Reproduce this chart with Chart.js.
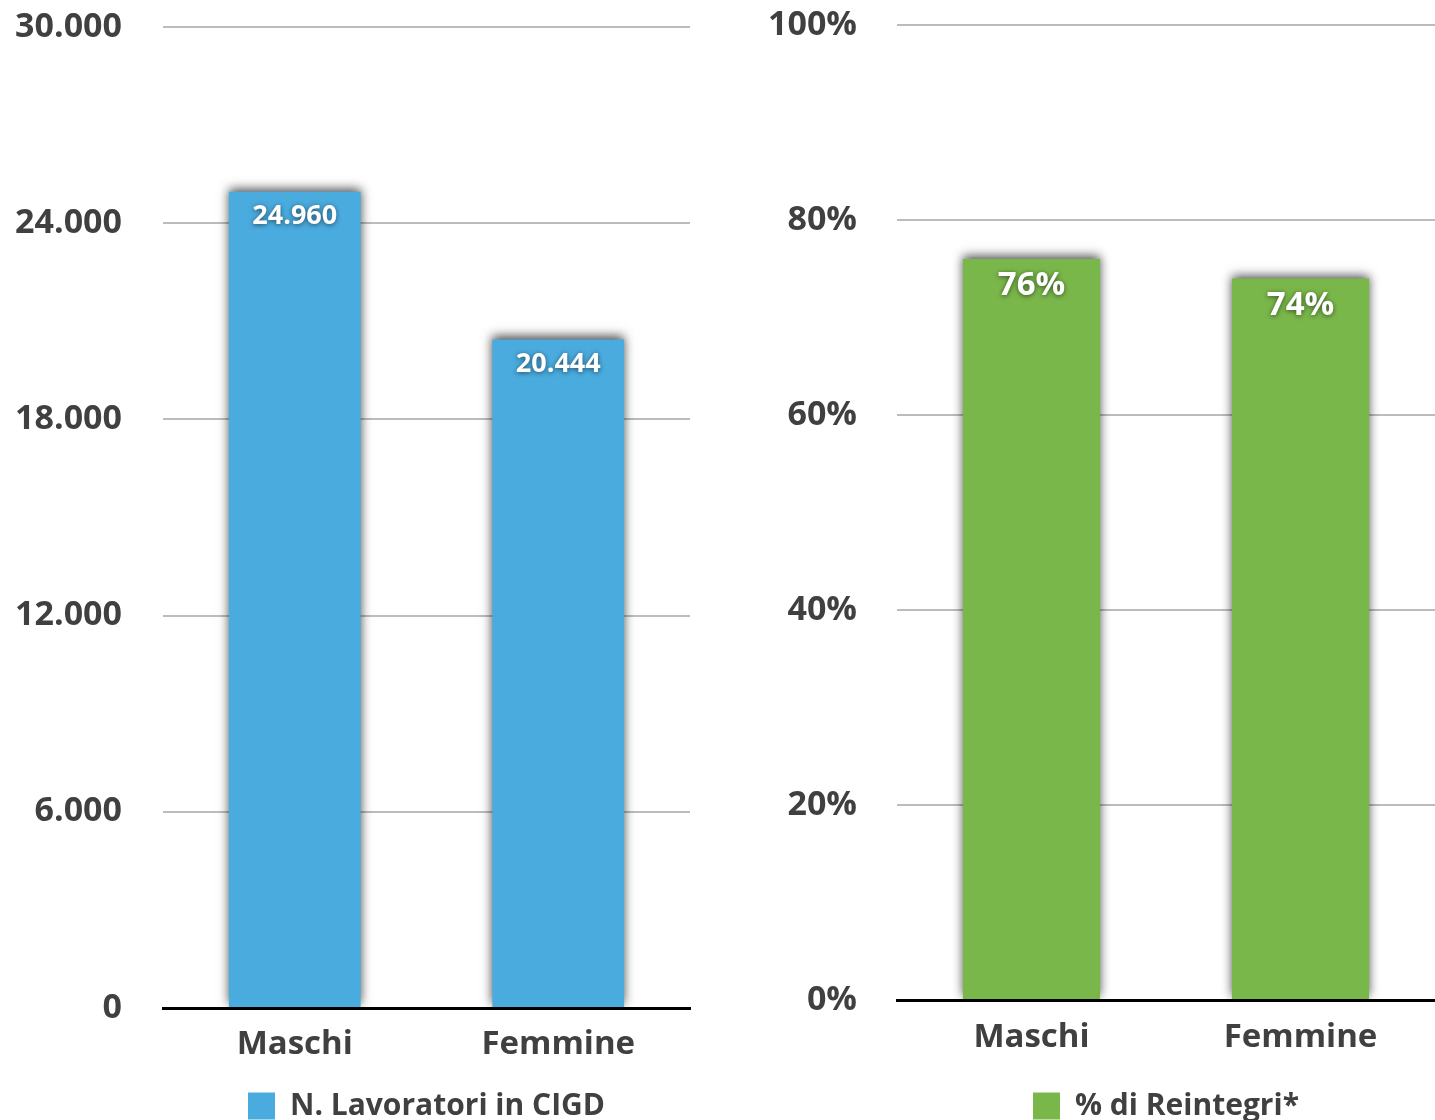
<!DOCTYPE html>
<html lang="it">
<head>
<meta charset="utf-8">
<title>CIGD - Maschi e Femmine</title>
<script src="https://cdn.jsdelivr.net/npm/chart.js@4.4.1/dist/chart.umd.min.js"></script>
<style>
  html, body { margin: 0; padding: 0; background: #fff; overflow: hidden; }
  .box { position: absolute; top: 0; height: 1131px; }
  #boxLavoratori { left: 0; width: 700px; }
  #boxReintegri { left: 717px; width: 718px; }
</style>
</head>
<body>
<div class="box" id="boxLavoratori"><canvas id="graficoLavoratori"></canvas></div>
<div class="box" id="boxReintegri"><canvas id="graficoReintegri"></canvas></div>
<script>
const categorie = ['Maschi', 'Femmine'];
const lavoratori = [24960, 20444];
const reintegri = [76, 74];
const tickLavoratori = [0, 6000, 12000, 18000, 24000, 30000];
const tickReintegri = [0, 20, 40, 60, 80, 100];

const FONT = "'Open Sans', 'DejaVu Sans', sans-serif";
const GRIGIO = '#404040';

function migliaia(v) {
  return String(v).replace(/\B(?=(\d{3})+(?!\d))/g, '.');
}

// ombra morbida dietro le barre
const ombraBarre = {
  id: 'ombraBarre',
  beforeDatasetDraw(chart) {
    const ctx = chart.ctx;
    ctx.save();
    ctx.shadowColor = 'rgba(0,0,0,0.7)';
    ctx.shadowBlur = 10;
    ctx.shadowOffsetX = 0;
    ctx.shadowOffsetY = -3;
  },
  afterDatasetDraw(chart) {
    chart.ctx.restore();
  }
};

// valore scritto in bianco dentro la barra, vicino alla cima
const etichette = {
  id: 'etichette',
  afterDatasetsDraw(chart, args, opts) {
    const ctx = chart.ctx;
    chart.data.datasets.forEach((ds, i) => {
      chart.getDatasetMeta(i).data.forEach((bar, j) => {
        ctx.save();
        ctx.font = `700 ${opts.size}px ${FONT}`;
        ctx.fillStyle = '#fff';
        ctx.textAlign = 'center';
        ctx.textBaseline = 'middle';
        ctx.shadowColor = 'rgba(0,0,0,0.55)';
        ctx.shadowBlur = 5;
        ctx.shadowOffsetY = 1;
        ctx.fillText(opts.format(ds.data[j]), bar.x, bar.y + opts.offset);
        ctx.restore();
      });
    });
  }
};

function creaGrafico(id, cfg) {
  return new Chart(document.getElementById(id), {
    type: 'bar',
    data: {
      labels: categorie,
      datasets: [{
        label: cfg.label,
        data: cfg.data,
        backgroundColor: cfg.colore,
        borderWidth: 0,
        barPercentage: cfg.barra,
        categoryPercentage: 1
      }]
    },
    plugins: [ombraBarre, etichette],
    options: {
      responsive: true,
      maintainAspectRatio: false,
      animation: false,
      layout: { padding: { top: cfg.top, right: cfg.right, bottom: 0, left: 0 } },
      scales: {
        x: {
          z: 1,
          grid: { display: false, drawTicks: false },
          border: { display: true, color: '#000', width: 3 },
          ticks: {
            padding: cfg.xPad,
            color: GRIGIO,
            font: { family: FONT, size: 33, weight: 700 }
          },
          afterFit(scale) { scale.height = cfg.xAlt; }
        },
        y: {
          min: 0,
          max: cfg.ticks[cfg.ticks.length - 1],
          afterBuildTicks(scale) { scale.ticks = cfg.ticks.map(v => ({ value: v })); },
          afterFit(scale) {
            scale.width = cfg.yLarg;
            // il padding delle etichette non deve spostare l'area del grafico
            scale.paddingTop = 0;
            scale.paddingBottom = 0;
          },
          grid: { color: '#bcbcbc', lineWidth: 2, drawTicks: false },
          border: { display: false },
          ticks: {
            padding: cfg.yPad,
            color: GRIGIO,
            font: { family: FONT, size: 34, weight: 700 },
            callback: cfg.formatAsse
          }
        }
      },
      plugins: {
        tooltip: { enabled: false },
        legend: {
          position: 'bottom',
          fullSize: false,
          labels: {
            boxWidth: 27,
            boxHeight: 27,
            padding: 12,
            color: GRIGIO,
            font: { family: FONT, size: 30, weight: 700 }
          }
        },
        etichette: { size: cfg.etSize, offset: cfg.etOffset, format: cfg.formatValore }
      }
    }
  });
}

creaGrafico('graficoLavoratori', {
  label: 'N. Lavoratori in CIGD',
  data: lavoratori,
  colore: '#4aabde',
  barra: 0.5,
  ticks: tickLavoratori,
  top: 27,
  right: 10,
  yLarg: 163,
  yPad: 41,
  xPad: 17,
  xAlt: 71,
  etSize: 27,
  etOffset: 25,
  formatAsse: v => migliaia(v),
  formatValore: v => migliaia(v)
});

creaGrafico('graficoReintegri', {
  label: '% di Reintegri*',
  data: reintegri,
  colore: '#7ab74a',
  barra: 0.51,
  ticks: tickReintegri,
  top: 25,
  right: 0,
  yLarg: 180,
  yPad: 40,
  xPad: 18,
  xAlt: 79,
  etSize: 33,
  etOffset: 27,
  formatAsse: v => v + '%',
  formatValore: v => v + '%'
});
</script>
</body>
</html>
